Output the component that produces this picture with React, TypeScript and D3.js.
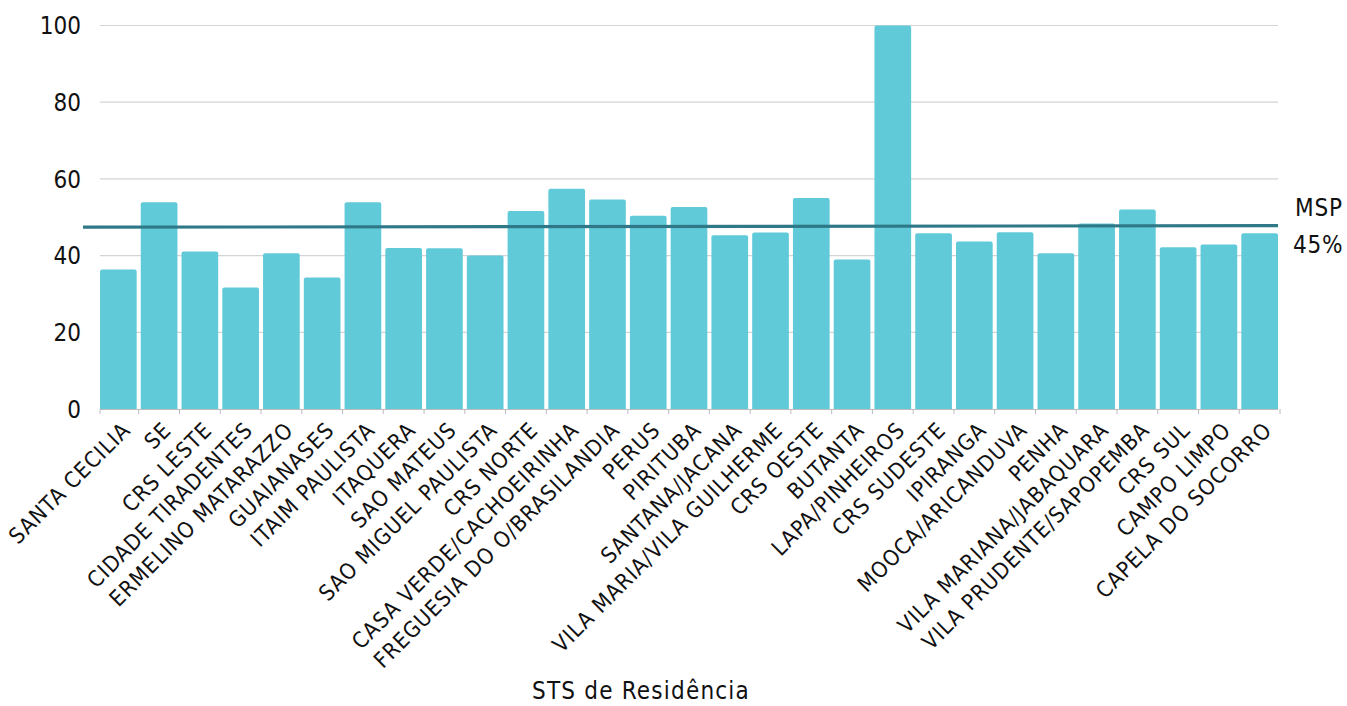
import React from "react";
import * as d3 from "d3";

const categories = [
  "SANTA CECILIA", "SE", "CRS LESTE", "CIDADE TIRADENTES", "ERMELINO MATARAZZO",
  "GUAIANASES", "ITAIM PAULISTA", "ITAQUERA", "SAO MATEUS", "SAO MIGUEL PAULISTA",
  "CRS NORTE", "CASA VERDE/CACHOEIRINHA", "FREGUESIA DO O/BRASILANDIA", "PERUS", "PIRITUBA",
  "SANTANA/JACANA", "VILA MARIA/VILA GUILHERME", "CRS OESTE", "BUTANTA", "LAPA/PINHEIROS",
  "CRS SUDESTE", "IPIRANGA", "MOOCA/ARICANDUVA", "PENHA", "VILA MARIANA/JABAQUARA",
  "VILA PRUDENTE/SAPOPEMBA", "CRS SUL", "CAMPO LIMPO", "CAPELA DO SOCORRO",
];

const values = [
  36.4, 53.9, 41.1, 31.7, 40.6,
  34.3, 53.9, 42.0, 41.9, 40.0,
  51.6, 57.4, 54.6, 50.4, 52.7,
  45.3, 46.0, 55.0, 39.0, 100,
  45.8, 43.7, 46.1, 40.6, 48.4,
  52.0, 42.2, 42.9, 45.8,
];

const yTicks = [0, 20, 40, 60, 80, 100];
const mspValues = [47.4, 47.8];
const mspLabel = ["MSP", "45%"];
const xTitle = "STS de Residência";

const W = 1347;
const H = 706;
const FONT = "'DejaVu Sans', sans-serif";

function topRoundedBar(x: number, y: number, w: number, h: number, r: number) {
  const rr = Math.min(r, w / 2, h);
  return `M${x},${y + h}V${y + rr}Q${x},${y} ${x + rr},${y}H${x + w - rr}Q${x + w},${y} ${x + w},${y + rr}V${y + h}Z`;
}

const txt = { fontFamily: FONT, fontStretch: "condensed" as const, fill: "#111" };

export default function App() {
  const left = 100, right = 1278, top = 25.5, bottom = 409;
  const x = d3.scaleBand<string>().domain(categories).range([left, right]).paddingInner(0.1).paddingOuter(0);
  const y = d3.scaleLinear().domain([0, 100]).range([bottom, top]);
  const step = x.step();
  const boundaries = d3.range(categories.length + 1).map((i) => left + i * step - (i === 0 ? 0 : step * 0.05));
  const mspLine = d3.line<number>().x((d, i) => (i === 0 ? 83 : right)).y((d) => y(d));

  return (
    <svg width={W} height={H} style={{ position: "absolute", left: 0, top: 0, display: "block", background: "#fff" }}>
      {yTicks.filter((t) => t > 0).map((t) => (
        <line key={t} x1={left} x2={right} y1={y(t)} y2={y(t)} stroke="#d4d4d4" strokeWidth={1.2} />
      ))}
      {yTicks.map((t) => (
        <text key={"l" + t} x={81} y={y(t)} dy="0.36em" textAnchor="end" fontSize={24} style={txt}>
          {t}
        </text>
      ))}
      {categories.map((c, i) => {
        const bx = x(c)!;
        const by = y(values[i]);
        return <path key={c} d={topRoundedBar(bx, by, x.bandwidth(), bottom - by, 2)} fill="#61cad9" />;
      })}
      <line x1={left} x2={right} y1={bottom + 0.5} y2={bottom + 0.5} stroke="#bdbdbd" strokeWidth={1} />
      {boundaries.map((b, i) => (
        <line key={"t" + i} x1={b} x2={b} y1={bottom} y2={bottom + 5} stroke="#bdbdbd" strokeWidth={1} />
      ))}
      <path d={mspLine(mspValues) || ""} stroke="#2f7888" strokeWidth={3.2} fill="none" />
      <text x={1295} y={216} fontSize={24} style={txt} letterSpacing={0.8}>{mspLabel[0]}</text>
      <text x={1293} y={253} fontSize={24} style={txt} letterSpacing={0.8}>{mspLabel[1]}</text>
      {categories.map((c) => {
        const cx = x(c)! + x.bandwidth() / 2;
        return (
          <text
            key={"x" + c}
            transform={`translate(${cx + 8},${bottom + 17}) rotate(-45)`}
            textAnchor="end"
            dy="0.35em"
            fontSize={22}
            letterSpacing={1.0}
            style={txt}
          >
            {c}
          </text>
        );
      })}
      <text x={641} y={699} textAnchor="middle" fontSize={24} letterSpacing={1.2} style={txt}>{xTitle}</text>
    </svg>
  );
}
